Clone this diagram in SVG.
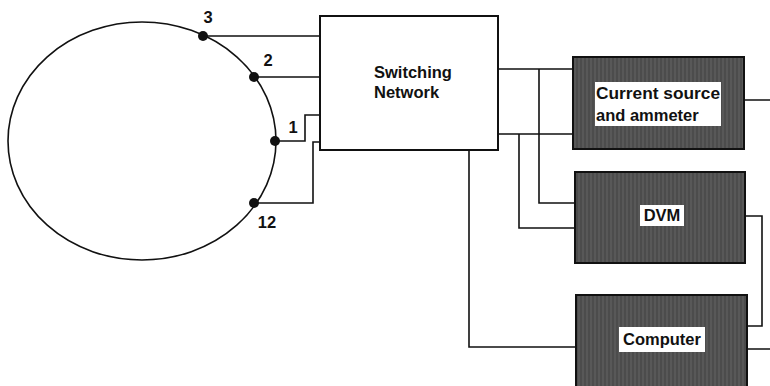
<svg xmlns="http://www.w3.org/2000/svg" width="770" height="386" viewBox="0 0 770 386">
<defs>
<pattern id="tex" width="4" height="8" patternUnits="userSpaceOnUse">
<rect width="4" height="8" fill="#585858"/>
<line x1="1" y1="0" x2="1" y2="8" stroke="#444" stroke-width="1.2"/>
</pattern>
</defs>
<style>
.w{fill:none;stroke:#111;stroke-width:1.6}
.dark{fill:url(#tex);stroke:#111;stroke-width:2}
.lbl{fill:#fff}
.t{font-family:"Liberation Sans",Arial,sans-serif;font-weight:bold;fill:#111;font-size:16.5px}
.dot{fill:#111}
</style>
<rect width="770" height="386" fill="#fff"/>
<g id="ring">
<ellipse cx="142" cy="141" rx="134" ry="119" class="w"/>
<circle cx="203" cy="36" r="5" class="dot"/>
<circle cx="254" cy="77" r="5" class="dot"/>
<circle cx="275" cy="141" r="5" class="dot"/>
<circle cx="254" cy="203" r="5" class="dot"/>
<text x="208" y="23" class="t" text-anchor="middle">3</text>
<text x="268" y="66" class="t" text-anchor="middle">2</text>
<text x="293" y="133" class="t" text-anchor="middle">1</text>
<text x="267" y="228" class="t" text-anchor="middle">12</text>
</g>
<g id="connectors">
<path class="w" d="M203 36H320M254 77H320M275 141H305V115H320M254 203H313V142H320"/>
<path class="w" d="M498 69H573M539 69V203H575M498 134H573M519 134V228H575M469 150V347H576"/>
<path class="w" d="M744 100H770M745 216H762V326H747M747 349H770"/>
</g>
<g id="switching">
<rect x="320" y="16" width="178" height="134" fill="#fff" stroke="#111" stroke-width="2"/>
<text x="374" y="78" class="t">Switching</text>
<text x="374" y="98" class="t">Network</text>
</g>
<g id="current">
<rect x="573" y="57" width="171" height="92" class="dark"/>
<rect x="595" y="82" width="126" height="44" class="lbl"/>
<text x="596" y="99" class="t" textLength="124" lengthAdjust="spacingAndGlyphs">Current source</text>
<text x="596" y="121" class="t">and ammeter</text>
</g>
<g id="dvm">
<rect x="575" y="172" width="170" height="91" class="dark"/>
<rect x="640" y="205" width="44" height="21" class="lbl"/>
<text x="662" y="221" class="t" text-anchor="middle">DVM</text>
</g>
<g id="computer">
<rect x="576" y="295" width="171" height="95" class="dark"/>
<rect x="619" y="327" width="86" height="25" class="lbl"/>
<text x="662" y="345" class="t" text-anchor="middle">Computer</text>
</g>
</svg>
